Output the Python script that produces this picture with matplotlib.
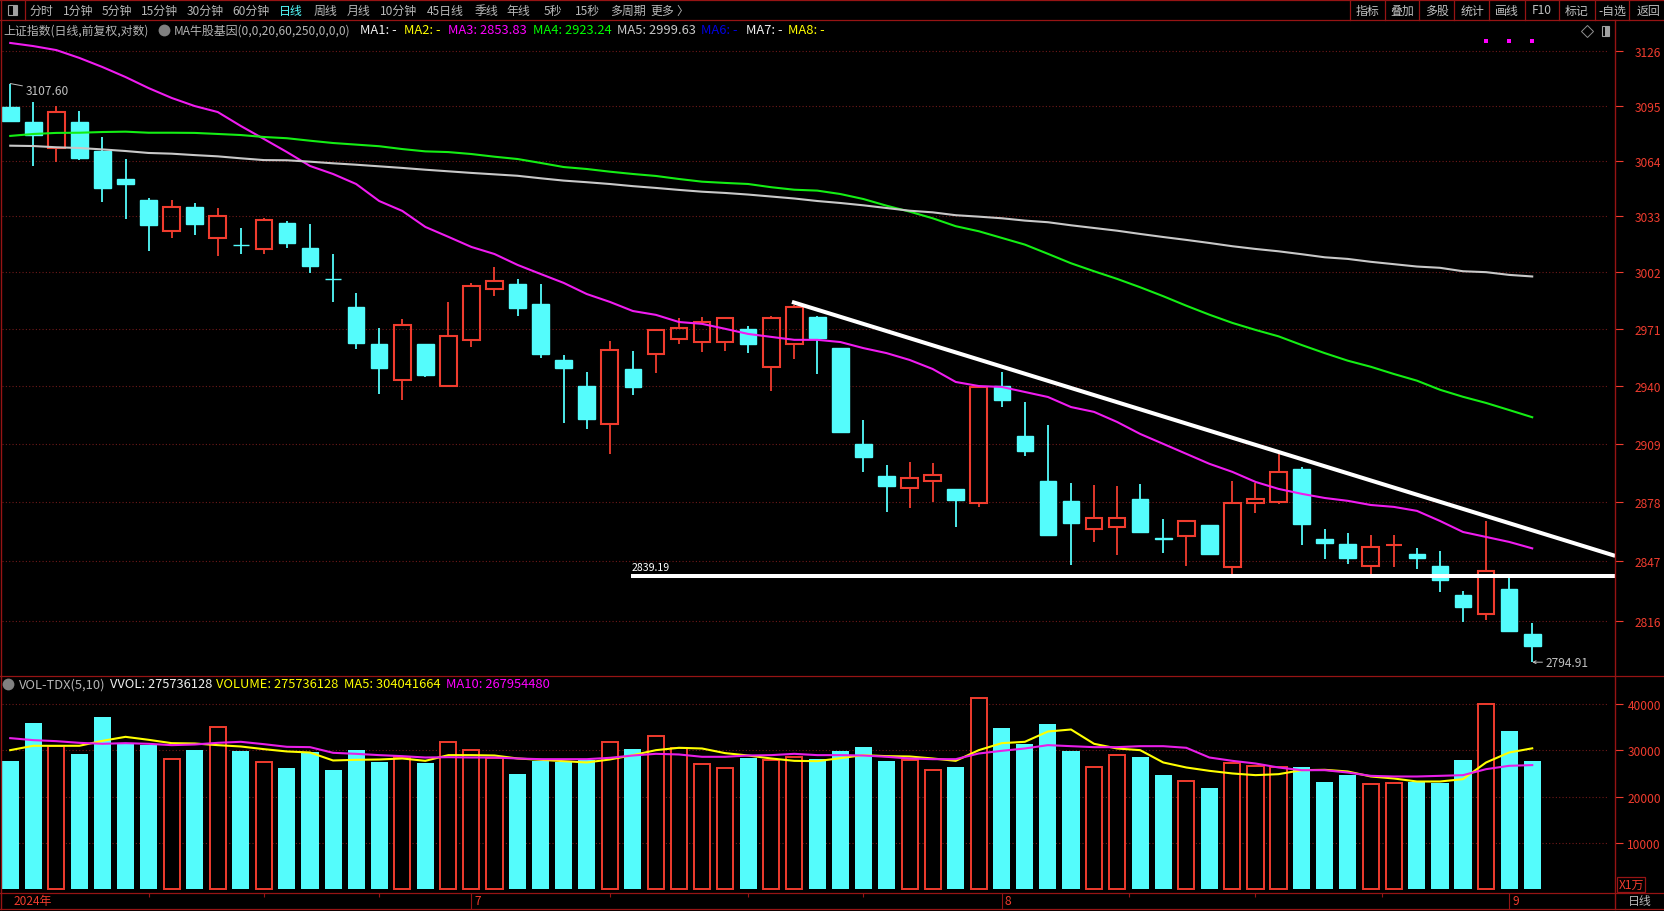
import matplotlib

matplotlib.use("Agg")

import matplotlib.pyplot as plt
from matplotlib.patches import Rectangle
from matplotlib.ticker import NullLocator

plt.rcParams["font.family"] = ["Noto Sans CJK SC", "DejaVu Sans"]

candle_open = [
    3094.3, 3085.8, 3071.1, 3085.8, 3069.4, 3053.7, 3041.9, 3024.8, 3038.1, 3020.9,
    3017.2, 3014.8, 3029.2, 3015.4, 2998.5, 2982.9, 2962.7, 2943.3, 2962.7, 2940.0,
    2964.9, 2992.8, 2995.6, 2984.6, 2954.1, 2940.0, 2919.7, 2949.2, 2957.3, 2965.5,
    2963.8, 2963.8, 2971.0, 2950.3, 2962.7, 2977.7, 2960.5, 2909.0, 2892.0, 2885.6,
    2889.3, 2885.1, 2877.7, 2940.0, 2913.2, 2889.3, 2878.8, 2864.0, 2865.1, 2879.8,
    2859.0, 2860.3, 2866.1, 2844.1, 2877.7, 2878.2, 2895.7, 2858.8, 2856.1, 2844.7,
    2855.5, 2850.9, 2844.7, 2829.6, 2819.8, 2832.7, 2809.4,
]
candle_high = [
    3107.6, 3097.1, 3094.8, 3092.0, 3077.3, 3064.9, 3043.1, 3041.9, 3040.3, 3037.5,
    3026.4, 3032.0, 3030.3, 3028.7, 3012.0, 2990.6, 2971.5, 2976.4, 2963.0, 2985.7,
    2996.1, 3004.9, 2998.3, 2995.6, 2956.8, 2947.6, 2964.3, 2958.9, 2971.0, 2976.9,
    2977.5, 2977.5, 2972.6, 2978.0, 2984.0, 2978.0, 2960.5, 2921.8, 2897.8, 2899.4,
    2898.9, 2885.1, 2939.5, 2947.6, 2931.4, 2919.1, 2888.3, 2887.2, 2886.7, 2887.7,
    2869.3, 2868.8, 2866.1, 2889.3, 2888.3, 2903.6, 2896.8, 2864.0, 2861.9, 2860.9,
    2860.9, 2854.0, 2852.5, 2831.7, 2868.2, 2840.5, 2815.1,
]
candle_low = [
    3086.3, 3061.0, 3063.2, 3064.3, 3040.8, 3031.4, 3013.7, 3020.9, 3022.6, 3011.0,
    3012.0, 3012.0, 3015.4, 3001.6, 2985.7, 2960.0, 2935.7, 2932.5, 2944.9, 2940.0,
    2961.1, 2988.9, 2978.0, 2955.1, 2920.2, 2917.0, 2903.7, 2935.2, 2947.0, 2962.7,
    2958.4, 2958.9, 2957.8, 2937.3, 2954.6, 2946.5, 2915.4, 2894.1, 2873.0, 2875.1,
    2878.2, 2865.1, 2875.6, 2928.7, 2902.6, 2860.9, 2845.2, 2857.2, 2850.4, 2862.4,
    2851.4, 2844.7, 2850.4, 2840.5, 2872.4, 2877.2, 2855.6, 2848.3, 2845.7, 2840.5,
    2844.1, 2843.1, 2831.1, 2815.6, 2816.7, 2810.5, 2794.9,
]
candle_close = [
    3086.3, 3078.4, 3091.2, 3065.5, 3048.7, 3050.9, 3028.1, 3038.1, 3028.7, 3033.1,
    3016.9, 3030.9, 3018.1, 3005.5, 2998.2, 2963.3, 2949.7, 2973.1, 2946.0, 2967.1,
    2994.5, 2997.2, 2982.4, 2957.3, 2949.7, 2922.3, 2959.5, 2939.5, 2970.4, 2971.5,
    2974.7, 2976.9, 2962.7, 2976.9, 2982.9, 2966.0, 2915.4, 2902.1, 2886.7, 2890.9,
    2892.5, 2879.3, 2939.5, 2932.5, 2905.2, 2860.9, 2867.2, 2869.8, 2869.8, 2862.4,
    2858.7, 2868.2, 2850.9, 2877.7, 2879.8, 2894.1, 2866.6, 2856.7, 2848.8, 2854.5,
    2855.8, 2848.8, 2837.4, 2823.4, 2842.0, 2811.0, 2803.2,
]

ma20 = [
    3130.8, 3129.0, 3126.7, 3122.2, 3117.0, 3111.3, 3105.0, 3099.4, 3094.8, 3091.4,
    3083.5, 3076.2, 3068.8, 3061.0, 3056.5, 3050.9, 3041.4, 3035.9, 3027.0, 3021.5,
    3015.9, 3012.0, 3006.0, 3001.0, 2996.1, 2990.0, 2985.7, 2980.7, 2978.6, 2974.7,
    2973.7, 2971.0, 2968.2, 2966.6, 2965.0, 2965.0, 2963.8, 2960.5, 2957.8, 2954.1,
    2949.2, 2942.2, 2940.0, 2939.5, 2936.8, 2934.1, 2928.7, 2926.1, 2920.7, 2914.3,
    2909.0, 2903.7, 2898.4, 2894.1, 2888.8, 2885.1, 2882.5, 2880.3, 2878.8, 2876.6,
    2875.6, 2873.5, 2868.2, 2862.4, 2859.8, 2857.2, 2853.83,
]
ma60 = [
    3077.9, 3079.0, 3079.6, 3079.7, 3080.1, 3080.3, 3079.7, 3079.7, 3079.6, 3079.0,
    3078.4, 3077.3, 3076.6, 3075.2, 3073.9, 3073.0, 3072.1, 3070.5, 3069.2, 3068.8,
    3067.7, 3066.2, 3064.9, 3062.7, 3060.4, 3059.3, 3057.8, 3056.5, 3055.4, 3053.7,
    3052.2, 3051.5, 3050.9, 3049.1, 3047.7, 3047.2, 3045.3, 3042.5, 3038.8, 3035.5,
    3031.8, 3027.4, 3024.6, 3020.9, 3017.2, 3012.1, 3006.9, 3002.5, 2998.3, 2993.7,
    2988.8, 2983.6, 2978.7, 2974.2, 2970.4, 2966.9, 2962.2, 2957.8, 2953.7, 2950.4,
    2946.5, 2942.9, 2938.0, 2934.2, 2930.9, 2927.1, 2923.24,
]
ma250 = [
    3072.4, 3072.2, 3071.5, 3071.1, 3070.3, 3069.4, 3068.3, 3067.9, 3067.1, 3066.4,
    3065.3, 3064.3, 3064.2, 3063.4, 3062.5, 3061.7, 3060.8, 3059.9, 3058.9, 3058.0,
    3057.1, 3056.3, 3055.5, 3054.1, 3052.8, 3051.9, 3050.9, 3049.7, 3048.7, 3047.6,
    3046.6, 3045.9, 3045.0, 3043.9, 3042.8, 3041.4, 3040.3, 3039.0, 3037.5, 3036.0,
    3035.1, 3033.5, 3032.7, 3031.8, 3030.5, 3029.6, 3027.9, 3026.4, 3024.9, 3023.1,
    3021.4, 3019.8, 3018.1, 3016.3, 3014.8, 3013.5, 3011.9, 3010.2, 3009.3, 3007.7,
    3006.4, 3005.1, 3004.4, 3002.5, 3002.0, 3000.5, 2999.63,
]

volume = [
    27640, 35830, 30800, 29150, 37120, 31300, 31090, 28150, 30010, 35040,
    29800, 27500, 26130, 29510, 25700, 30010, 27430, 28430, 27280, 31810,
    29940, 28360, 24840, 27710, 27360, 27860, 31810, 30230, 33100, 30440,
    27070, 26200, 28290, 27930, 28430, 28070, 29800, 30660, 27640, 27930,
    25780, 26350, 41290, 34750, 31300, 35610, 29800, 26420, 29010, 28500,
    24630, 23410, 21830, 27210, 26640, 26280, 26490, 23120, 24700, 22760,
    22980, 23190, 22900, 27860, 39990, 34100, 27574,
]
vol_ma5 = [
    30010, 30950, 30950, 30950, 32020, 32880, 32240, 31520, 31450, 31090,
    30800, 30230, 29730, 29510, 27790, 27930, 28000, 28220, 27710, 28940,
    28940, 28860, 28220, 27930, 27640, 27360, 28000, 28940, 30010, 30520,
    30370, 29370, 28860, 28220, 27710, 27640, 28290, 28940, 28720, 28650,
    28220, 27710, 30010, 31520, 31810, 34030, 34460, 31380, 30370, 30010,
    27360, 26280, 25560, 24990, 24630, 24840, 25700, 25780, 25420, 24340,
    23910, 23260, 23260, 23770, 27360, 29510, 30404,
]
vol_ma10 = [
    32600, 32170, 31950, 31590, 31380, 31520, 31380, 31090, 31230, 31590,
    31810, 31300, 30730, 30660, 29440, 29220, 28940, 28720, 28430, 28500,
    28430, 28430, 28220, 28070, 28070, 28070, 28360, 28860, 29220, 29080,
    28580, 28580, 28860, 28940, 29220, 28940, 28940, 28860, 28580, 28220,
    28070, 28070, 29290, 29870, 30370, 31090, 30870, 30660, 30660, 30870,
    30870, 30520, 28430, 27710, 27140, 26280, 25700, 25700, 25200, 24480,
    24340, 24340, 24480, 24630, 25920, 26640, 26795,
]

price_ticks = [3126, 3095, 3064, 3033, 3002, 2971, 2940, 2909, 2878, 2847, 2816]
vol_ticks = [10000, 20000, 30000, 40000]

support_level = 2839.19
trend_x = [33.9, 69.6]
trend_price = [2985.7, 2849.9]

month_ticks = [0, 20, 43, 65]
month_labels = ["2024年", "7", "8", "9"]
minor_ticks = [6, 11, 16, 26, 32, 37, 48.5, 54, 59.5]

toolbar_left = [
    ("分时", 41), ("1分钟", 78), ("5分钟", 117), ("15分钟", 159), ("30分钟", 205),
    ("60分钟", 251), ("日线", 291), ("周线", 325), ("月线", 359), ("10分钟", 399),
    ("45日线", 445), ("季线", 486), ("年线", 518), ("5秒", 553), ("15秒", 588),
    ("多周期", 628), ("更多", 662), ("〉", 682),
]
toolbar_right = [
    ("指标", 1368), ("叠加", 1402), ("多股", 1437), ("统计", 1472), ("画线", 1507),
    ("F10", 1542), ("标记", 1577), ("-自选", 1612), ("返回", 1648),
]
toolbar_dividers = [1350.5, 1385, 1419, 1454, 1489.5, 1525, 1559.5, 1595, 1629.5]
price_legend = [
    ("上证指数(日线,前复权,对数)", 3, "#b4b4b4"),
    ("MA牛股基因(0,0,20,60,250,0,0,0)", 174, "#b4b4b4"),
    ("MA1: -", 360.5, "#f0f0f0"),
    ("MA2: -", 404, "#ffff00"),
    ("MA3: 2853.83", 448, "#ff00ff"),
    ("MA4: 2923.24", 533, "#00ff00"),
    ("MA5: 2999.63", 617, "#c8c8c8"),
    ("MA6: -", 701, "#0000e0"),
    ("MA7: -", 746, "#f0f0f0"),
    ("MA8: -", 788, "#ffff00"),
]
vol_legend = [
    ("VOL-TDX(5,10)", 19, "#b4b4b4"),
    ("VVOL: 275736128", 110, "#f0f0f0"),
    ("VOLUME: 275736128", 216, "#ffff00"),
    ("MA5: 304041664", 344, "#ffff00"),
    ("MA10: 267954480", 446, "#ff00ff"),
]

WIDTH, HEIGHT = 1665, 912
RED = "#f03c2e"
CYAN = "#54fcfc"
FRAME = "#961414"
GRID = "#701a1a"
LABEL_PT = 8.6
LEGEND_PT = 9.3

xlim = (-0.356, 69.59)


def panel(fig, top, bottom):
    return fig.add_axes([2 / WIDTH, 1 - bottom / HEIGHT, 1613 / WIDTH, (bottom - top) / HEIGHT])


def style_panel(ax, ticks, labels):
    ax.set_facecolor("black")
    ax.set_xlim(*xlim)
    for spine in ax.spines.values():
        spine.set_visible(False)
    ax.yaxis.tick_right()
    ax.set_yticks(ticks, labels)
    ax.yaxis.set_minor_locator(NullLocator())
    ax.tick_params(axis="y", colors=RED, length=5.7, width=0.8, pad=27.4, labelsize=LABEL_PT)
    for lab in ax.get_yticklabels():
        lab.set_ha("right")
    ax.hlines(ticks, xlim[0], 69.3, color=GRID, lw=0.8, linestyles=(0, (1, 2)), zorder=0)


def draw_candles(ax):
    for i, (o, h, l, c) in enumerate(zip(candle_open, candle_high, candle_low, candle_close)):
        up = c >= o
        color = RED if up else CYAN
        top, bottom = max(o, c), min(o, c)
        ax.vlines(i, top, h, color=color, lw=1.3, zorder=2)
        ax.vlines(i, l, bottom, color=color, lw=1.3, zorder=2)
        ax.add_patch(Rectangle((i - 0.36, bottom), 0.72, top - bottom, zorder=3,
                               facecolor="none" if up else CYAN, edgecolor=color,
                               lw=1.5 if up else 1.0))


def draw_volume(ax):
    for i, (o, c, v) in enumerate(zip(candle_open, candle_close, volume)):
        if c >= o:
            ax.bar(i, v, width=0.7, facecolor="black", edgecolor=RED, lw=1.4, zorder=2)
        else:
            ax.bar(i, v, width=0.74, color=CYAN, zorder=2)


def main():
    fig = plt.figure(figsize=(WIDTH / 100, HEIGHT / 100), dpi=100, facecolor="black")
    days = list(range(len(candle_open)))

    ax = panel(fig, 21.5, 676.5)
    ax.set_yscale("log")
    ax.set_ylim(2788.1, 3143.7)
    style_panel(ax, price_ticks, [str(t) for t in price_ticks])
    ax.xaxis.set_visible(False)

    draw_candles(ax)
    ax.plot(days, ma20, color="#f01cf0", lw=1.5, zorder=4)
    ax.plot(days, ma60, color="#14ee14", lw=1.5, zorder=4)
    ax.plot(days, ma250, color="#c8c8c8", lw=1.5, zorder=4)
    ax.plot([26.92, xlim[1]], [support_level, support_level], color="white", lw=2.9,
            solid_capstyle="butt", zorder=5)
    ax.plot(trend_x, trend_price, color="white", lw=2.9, solid_capstyle="butt", zorder=5)
    ax.plot(days[-3:], [3131.9] * 3, ls="none", marker="s", ms=2.4, color="#ff00ff", mew=0)

    ax.annotate("2839.19", (26.92, support_level), xytext=(1, 9), textcoords="offset pixels",
                color="white", fontsize=7.6, va="center", zorder=6)
    ax.annotate("3107.60", (0, 3107.6), xytext=(15, -7), textcoords="offset pixels",
                color="#c0c0c0", fontsize=LABEL_PT, va="center",
                arrowprops=dict(arrowstyle="-", color="#c0c0c0", lw=0.7, shrinkA=0, shrinkB=0))
    ax.annotate("2794.91", (66, 2794.91), xytext=(13, 0), textcoords="offset pixels",
                color="#c0c0c0", fontsize=LABEL_PT, va="center",
                arrowprops=dict(arrowstyle="->", color="#c0c0c0", lw=0.7, shrinkA=0, shrinkB=0,
                                mutation_scale=5))

    ax_vol = panel(fig, 677, 894)
    ax_vol.set_ylim(-754, 45983)
    style_panel(ax_vol, vol_ticks, [str(t) for t in vol_ticks])
    draw_volume(ax_vol)
    ax_vol.plot(days, vol_ma5, color="#ffff00", lw=1.5, zorder=4)
    ax_vol.plot(days, vol_ma10, color="#e81ee8", lw=1.5, zorder=5)

    ax_vol.set_xticks(month_ticks[1:], [""] * 3)
    ax_vol.set_xticks(minor_ticks, minor=True)
    ax_vol.tick_params(axis="x", which="major", colors=FRAME, length=11.5, width=0.8)
    ax_vol.tick_params(axis="x", which="minor", colors=FRAME, length=3, width=0.8)
    for day, label in zip(month_ticks, month_labels):
        ax_vol.annotate(label, (day, 0), xycoords=ax_vol.get_xaxis_transform(),
                        xytext=(3, -8), textcoords="offset pixels", color=RED,
                        fontsize=LABEL_PT, va="center", ha="left", annotation_clip=False)

    # window chrome, in pixel coordinates
    ui = fig.add_axes([0, 0, 1, 1], facecolor="none")
    ui.set_xlim(0, WIDTH)
    ui.set_ylim(HEIGHT, 0)
    ui.axis("off")
    for y in (0.8, 21, 676.5, 894, 910):
        ui.plot([0, WIDTH], [y, y], color=FRAME, lw=0.9)
    ui.plot([1, 1], [0, 910], color=FRAME, lw=1.0)
    ui.plot([1615, 1615], [21, 910], color=FRAME, lw=1.0)
    ui.plot([25, 25], [0, 21], color=FRAME, lw=0.9)
    for x in toolbar_dividers:
        ui.plot([x, x], [0, 21], color=FRAME, lw=0.9)

    for text, x in toolbar_left:
        color = "#54fcfc" if text == "日线" else "#b8b8b8"
        ui.text(x, 11, text, color=color, fontsize=LABEL_PT, ha="center", va="center")
    for text, x in toolbar_right:
        ui.text(x, 11, text, color="#c0c0c0", fontsize=LABEL_PT, ha="center", va="center")
    for text, x, color in price_legend:
        size = LEGEND_PT if text.isascii() else LABEL_PT
        ui.text(x, 31, text, color=color, fontsize=size, ha="left", va="center")
    for text, x, color in vol_legend:
        ui.text(x, 685, text, color=color, fontsize=LEGEND_PT, ha="left", va="center")

    ui.add_patch(Rectangle((8, 6), 9, 10, fill=False, edgecolor="#a0a0a0", lw=0.8))
    ui.add_patch(Rectangle((13, 6), 4, 10, facecolor="#a0a0a0", edgecolor="none"))
    ui.add_patch(Rectangle((1602, 27), 7, 10, fill=False, edgecolor="#a0a0a0", lw=0.8))
    ui.add_patch(Rectangle((1605, 27), 4, 10, facecolor="#a0a0a0", edgecolor="none"))
    ui.plot([1587], [32], marker="D", ms=6, mfc="none", mec="#909090", mew=0.7)
    ui.plot([164], [31], marker="o", ms=8.5, color="#808080", mew=0)
    ui.plot([8.5], [685], marker="o", ms=8.5, color="#808080", mew=0)

    ui.add_patch(Rectangle((1617, 878), 28, 15, fill=False, edgecolor=FRAME, lw=0.9))
    ui.text(1631, 885.5, "X1万", color=RED, fontsize=LABEL_PT, ha="center", va="center")
    ui.text(1640, 902, "日线", color="#b8b8b8", fontsize=LABEL_PT, ha="center", va="center")

    fig.savefig("out.png", dpi=100, facecolor="black")


if __name__ == "__main__":
    main()
